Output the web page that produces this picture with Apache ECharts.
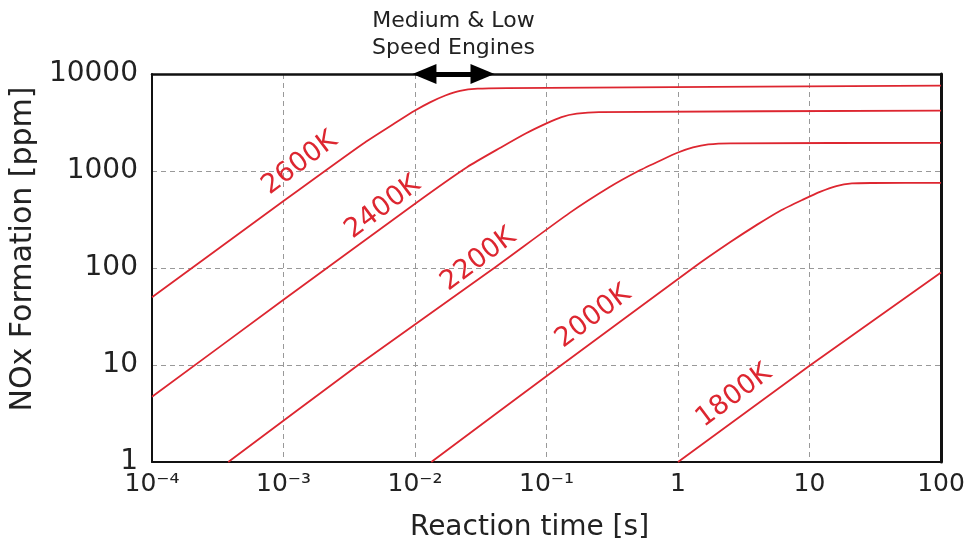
<!DOCTYPE html>
<html>
<head>
<meta charset="utf-8">
<script src="https://cdn.jsdelivr.net/npm/echarts@6/dist/echarts.min.js"></script>
<style>
  html, body { margin: 0; padding: 0; background: #fff; }
  #e1 { width: 970px; height: 547px; }
</style>
</head>
<body>
<div id="e1"></div>
<script>
// tick labels
const xTickLabels = ['10⁻⁴', '10⁻³', '10⁻²', '10⁻¹', '1', '10', '100'];
const yTickLabels = ['1', '10', '100', '1000', '10000'];

// reaction time [s] / NOx [ppm]
const t2600 = [1e-4, 1e-3, 4e-3, 7e-3, 0.01, 0.013, 0.017, 0.022, 0.03, 0.05, 100];
const v2600 = [50, 490, 1900, 3100, 4200, 5100, 6000, 6700, 7050, 7150, 7600];
const t2400 = [1e-4, 1e-3, 0.01, 0.025, 0.045, 0.07, 0.1, 0.13, 0.17, 0.25, 100];
const v2400 = [4.7, 47, 460, 1100, 1750, 2450, 3100, 3600, 3900, 4050, 4200];
const t2200 = [3.8e-4, 3.7e-3, 0.04, 0.15, 0.3, 0.5, 0.75, 1, 1.3, 1.7, 2.5, 100];
const v2200 = [1, 10, 100, 370, 680, 1000, 1300, 1550, 1750, 1880, 1930, 1950];
const t2000 = [0.0133, 0.13, 1.3, 2.5, 4, 6, 9, 12, 16, 21, 30, 100];
const v2000 = [1, 10, 100, 185, 280, 390, 510, 610, 700, 745, 752, 755];
const t1800 = [1, 10, 100];
const v1800 = [1, 9.8, 90];

// curve names and where their labels sit (time, ppm)
const curveNames = ['2600K', '2400K', '2200K', '2000K', '1800K'];
const labelT = [1.33e-3, 5.7e-3, 0.0304, 0.227, 2.67];
const labelV = [1200, 421, 122, 31.5, 4.8];

// engine range arrow (time), arrow head centres
const engineRange = [0.0118, 0.0326];

const red = '#dd2630';
const tList = [t2600, t2400, t2200, t2000, t1800];
const vList = [v2600, v2400, v2200, v2000, v1800];

let myChart = echarts.init(document.getElementById('e1'));

let series = [];
for (let i in curveNames) {
  let pts = [];
  for (let j in tList[i]) {
    pts.push([tList[i][j], vList[i][j]]);
  }
  let s = {
    name: curveNames[i],
    type: 'line',
    data: pts,
    smooth: 0.2,
    showSymbol: false,
    silent: true,
    clip: false,
    lineStyle: { color: red, width: 1.8 },
    markPoint: {
      symbol: 'circle',
      symbolSize: 0,
      silent: true,
      data: [{
        coord: [labelT[i], labelV[i]],
        label: {
          show: true,
          formatter: curveNames[i],
          position: 'inside',
          rotate: 37,
          color: red,
          fontSize: 27,
          fontFamily: 'DejaVu Sans'
        }
      }]
    }
  };
  if (i == 0) {
    s.markLine = {
      silent: true,
      symbol: ['triangle', 'triangle'],
      symbolSize: [20, 24],
      lineStyle: { color: '#000', width: 5, type: 'solid' },
      label: {
        show: true,
        position: 'middle',
        formatter: 'Medium & Low\nSpeed Engines',
        color: '#222',
        fontSize: 22,
        lineHeight: 27,
        fontFamily: 'DejaVu Sans',
        distance: 12
      },
      data: [[{ coord: [engineRange[0], 10000] }, { coord: [engineRange[1], 10000] }]]
    };
  }
  series.push(s);
}

let frameAxis = {
  axisLine: { show: true, lineStyle: { color: '#111', width: 2.5 } },
  axisTick: { show: false },
  axisLabel: { show: false },
  splitLine: { show: false }
};

let option = {
  backgroundColor: '#fff',
  animation: false,
  grid: {
    left: 152, right: 29, top: 74, bottom: 85
  },
  xAxis: [{
    type: 'log',
    logBase: 10,
    min: 1e-4,
    max: 100,
    name: 'Reaction time [s]',
    nameLocation: 'middle',
    nameGap: 52,
    nameTextStyle: { fontSize: 28, color: '#222', fontFamily: 'DejaVu Sans', padding: [0, 34, 0, 0] },
    axisLine: { show: true, lineStyle: { color: '#111', width: 2 } },
    axisTick: { show: false },
    axisLabel: {
      margin: 10,
      fontSize: 25,
      color: '#222',
      fontFamily: 'DejaVu Sans',
      formatter: function (val) {
        return xTickLabels[Math.round(Math.log10(val)) + 4];
      }
    },
    splitLine: { show: true, lineStyle: { color: '#999', type: [5, 4], width: 1 } }
  }, Object.assign({ type: 'log', logBase: 10, min: 1e-4, max: 100, position: 'top' }, frameAxis)],
  yAxis: [{
    type: 'log',
    logBase: 10,
    min: 1,
    max: 10000,
    name: 'NOx Formation [ppm]',
    nameLocation: 'middle',
    nameRotate: 90,
    nameGap: 110,
    nameTextStyle: { fontSize: 30, color: '#222', fontFamily: 'DejaVu Sans', padding: [0, 0, 0, 38] },
    axisLine: { show: true, lineStyle: { color: '#111', width: 2 } },
    axisTick: { show: false },
    axisLabel: {
      margin: 14,
      fontSize: 28,
      color: '#222',
      fontFamily: 'DejaVu Sans',
      formatter: function (val) {
        return yTickLabels[Math.round(Math.log10(val))];
      }
    },
    splitLine: { show: true, lineStyle: { color: '#999', type: [5, 4], width: 1 } }
  }, Object.assign({ type: 'log', logBase: 10, min: 1, max: 10000, position: 'right' }, frameAxis, {
    axisLine: { show: true, lineStyle: { color: '#111', width: 3 } }
  })],
  series: series
};
myChart.setOption(option);
</script>
</body>
</html>
